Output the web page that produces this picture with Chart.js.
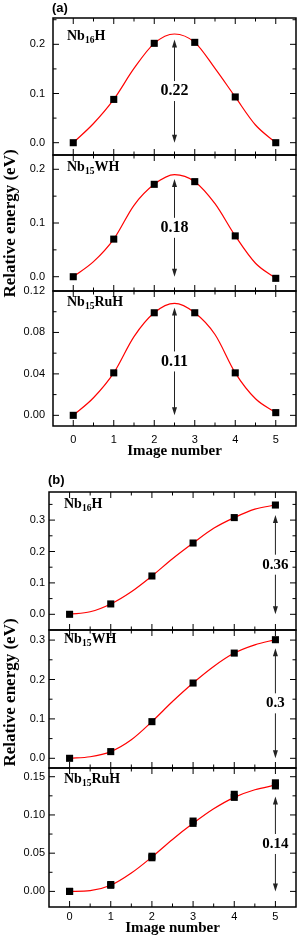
<!DOCTYPE html>
<html>
<head>
<meta charset="utf-8">
<script src="https://cdn.jsdelivr.net/npm/chart.js@4.4.1/dist/chart.umd.min.js"></script>
<style>
html,body{margin:0;padding:0;background:#fff;}
body{width:300px;height:940px;position:relative;overflow:hidden;}
canvas{position:absolute;left:0;}
.lbl{position:absolute;font-family:"Liberation Serif","Times New Roman",serif;font-weight:bold;font-size:14px;line-height:14px;white-space:nowrap;color:#000;z-index:5;}
.lbl sub{font-size:9.5px;vertical-align:baseline;position:relative;top:3px;}
.pan{position:absolute;font-family:"Liberation Sans",Arial,sans-serif;font-weight:bold;font-size:13px;line-height:13px;color:#000;z-index:5;}
.ytitle{position:absolute;width:220px;text-align:center;font-family:"Liberation Serif","Times New Roman",serif;font-weight:bold;font-size:17px;line-height:17px;transform:rotate(-90deg);transform-origin:50% 50%;white-space:nowrap;color:#000;z-index:5;}
</style>
</head>
<body>
<div class="pan" style="left:52px;top:1px">(a)</div>
<div class="pan" style="left:48px;top:473px">(b)</div>
<div class="ytitle" style="left:-100.7px;top:215px">Relative energy (eV)</div>
<div class="ytitle" style="left:-100.7px;top:683.5px">Relative energy (eV)</div>
<div class="lbl" style="left:67px;top:29px">Nb<sub>16</sub>H</div>
<div class="lbl" style="left:67px;top:160px">Nb<sub>15</sub>WH</div>
<div class="lbl" style="left:67px;top:295px">Nb<sub>15</sub>RuH</div>
<div class="lbl" style="left:64px;top:497px">Nb<sub>16</sub>H</div>
<div class="lbl" style="left:64px;top:632px">Nb<sub>15</sub>WH</div>
<div class="lbl" style="left:64px;top:771.5px">Nb<sub>15</sub>RuH</div>
<script>
// ---------- data ----------
const imageNumbers = [0, 1, 2, 3, 4, 5];
const xTickLabels = ['0', '1', '2', '3', '4', '5'];
const xMinorTicks = [0.5, 1.5, 2.5, 3.5, 4.5];
const curveX = [0, 0.5, 1, 1.5, 2, 2.5, 3, 3.5, 4, 4.5, 5];

// panel (a)
const a1Points = [0, 0.088, 0.202, 0.204, 0.093, 0];
const a1Curve  = [0, 0.039, 0.088, 0.151, 0.202, 0.221, 0.204, 0.151, 0.093, 0.036, 0];
const a2Points = [0, 0.070, 0.172, 0.177, 0.076, -0.003];
const a2Curve  = [0, 0.028, 0.070, 0.133, 0.172, 0.190, 0.177, 0.136, 0.076, 0.025, -0.003];
const a3Points = [0, 0.041, 0.099, 0.099, 0.041, 0.0026];
const a3Curve  = [0, 0.017, 0.041, 0.076, 0.099, 0.108, 0.099, 0.078, 0.041, 0.016, 0.0026];

// panel (b)
const b1Points = [0, 0.033, 0.122, 0.227, 0.308, 0.348];
const b1Curve  = [0, 0.008, 0.033, 0.072, 0.122, 0.177, 0.227, 0.274, 0.308, 0.335, 0.348];
const b2Points = [0, 0.017, 0.093, 0.191, 0.267, 0.301];
const b2Curve  = [0, 0.004, 0.017, 0.047, 0.093, 0.144, 0.191, 0.233, 0.267, 0.288, 0.301];
const b3PointsA = [0, 0.008, 0.046, 0.092, 0.127, 0.142];
const b3PointsB = [0, 0.009, 0.044, 0.089, 0.123, 0.138];
const b3Curve  = [0, 0.001, 0.008, 0.024, 0.045, 0.068, 0.089, 0.108, 0.123, 0.133, 0.139];

// y axes: ranges, major ticks, labels, minor ticks
const a1YRange = [-0.025, 0.2535], a1YTicks = [0, 0.1, 0.2], a1YLabels = ['0.0', '0.1', '0.2'], a1YMinor = [0.05, 0.15, 0.25];
const a2YRange = [-0.0266, 0.2266], a2YTicks = [0, 0.1, 0.2], a2YLabels = ['0.0', '0.1', '0.2'], a2YMinor = [0.05, 0.15];
const a3YRange = [-0.0103, 0.12], a3YTicks = [0, 0.04, 0.08, 0.12], a3YLabels = ['0.00', '0.04', '0.08', '0.12'], a3YMinor = [0.02, 0.06, 0.10];
const b1YRange = [-0.05, 0.3895], b1YTicks = [0, 0.1, 0.2, 0.3], b1YLabels = ['0.0', '0.1', '0.2', '0.3'], b1YMinor = [0.05, 0.15, 0.25, 0.35];
const b2YRange = [-0.0246, 0.3256], b2YTicks = [0, 0.1, 0.2, 0.3], b2YLabels = ['0.0', '0.1', '0.2', '0.3'], b2YMinor = [0.05, 0.15, 0.25];
const b3YRange = [-0.0204, 0.1614], b3YTicks = [0, 0.05, 0.10, 0.15], b3YLabels = ['0.00', '0.05', '0.10', '0.15'], b3YMinor = [0.025, 0.075, 0.125];

// barrier arrows
const barrierX = [2.5, 2.5, 2.5, 5, 5, 5];
const arrowTops = [0.21, 0.182, 0.104, 0.316, 0.279, 0.124];
const barrierLabels = ['0.22', '0.18', '0.11', '0.36', '0.3', '0.14'];

// ---------- layout ----------
const subplots = [
  {pts:[a1Points], curve:a1Curve, yr:a1YRange, yt:a1YTicks, yl:a1YLabels, ym:a1YMinor, boxTop:18,  boxBottom:155, boxLeft:53, yPad:8, bottom:false, font:16},
  {pts:[a2Points], curve:a2Curve, yr:a2YRange, yt:a2YTicks, yl:a2YLabels, ym:a2YMinor, boxTop:155, boxBottom:291, boxLeft:53, yPad:8, bottom:false, font:16},
  {pts:[a3Points], curve:a3Curve, yr:a3YRange, yt:a3YTicks, yl:a3YLabels, ym:a3YMinor, boxTop:291, boxBottom:426, boxLeft:53, yPad:8, bottom:true, xAxisH:36, xPad:7, titlePadB:2, font:16},
  {pts:[b1Points], curve:b1Curve, yr:b1YRange, yt:b1YTicks, yl:b1YLabels, ym:b1YMinor, boxTop:492, boxBottom:630, boxLeft:49, yPad:4, bottom:false, font:15},
  {pts:[b2Points], curve:b2Curve, yr:b2YRange, yt:b2YTicks, yl:b2YLabels, ym:b2YMinor, boxTop:630, boxBottom:768, boxLeft:49, yPad:4, bottom:false, font:15},
  {pts:[b3PointsA, b3PointsB], curve:b3Curve, yr:b3YRange, yt:b3YTicks, yl:b3YLabels, ym:b3YMinor, boxTop:768, boxBottom:907, boxLeft:49, yPad:4, bottom:true, xAxisH:32, xPad:3, titlePadB:2, font:15}
];

const P = 16;
const tickFont = {family: '"Liberation Sans", Arial, sans-serif', size: 11};

function framePlugin(sp, idx) {
  return {
    id: 'frame' + idx,
    afterDraw(chart) {
      const {ctx, chartArea: {left, right, top, bottom}, scales: {x, y}} = chart;
      ctx.save();
      ctx.strokeStyle = '#000';
      ctx.lineWidth = 1;
      const tick = (px, py, dx, dy) => { ctx.beginPath(); ctx.moveTo(px, py); ctx.lineTo(px + dx, py + dy); ctx.stroke(); };
      imageNumbers.forEach(v => { const px = x.getPixelForValue(v); tick(px, bottom, 0, -6); tick(px, top, 0, 6); });
      xMinorTicks.forEach(v => { const px = x.getPixelForValue(v); tick(px, bottom, 0, -3.5); tick(px, top, 0, 3.5); });
      sp.yt.forEach(v => { const py = y.getPixelForValue(v); if (py > top + 0.5) { tick(left, py, 6, 0); tick(right, py, -6, 0); } });
      sp.ym.forEach(v => { const py = y.getPixelForValue(v); if (py > top + 0.5) { tick(left, py, 3.5, 0); tick(right, py, -3.5, 0); } });
      ctx.lineWidth = 1.5;
      ctx.strokeRect(left, top, right - left, bottom - top);
      ctx.restore();
    },
    afterDatasetsDraw(chart) {
      const {ctx, scales: {x, y}} = chart;
      const px = x.getPixelForValue(barrierX[idx]);
      const y0 = y.getPixelForValue(0);
      const y1 = y.getPixelForValue(arrowTops[idx]);
      const ym = (y0 + y1) / 2;
      const gap = 10, head = 8, hw = 2.5;
      ctx.save();
      ctx.strokeStyle = '#222';
      ctx.fillStyle = '#222';
      ctx.lineWidth = 1;
      ctx.beginPath();
      ctx.moveTo(px, y1 + head - 1); ctx.lineTo(px, ym - gap);
      ctx.moveTo(px, ym + gap); ctx.lineTo(px, y0 - head + 1);
      ctx.stroke();
      ctx.beginPath();
      ctx.moveTo(px, y1); ctx.lineTo(px - hw, y1 + head); ctx.lineTo(px + hw, y1 + head); ctx.closePath();
      ctx.moveTo(px, y0); ctx.lineTo(px - hw, y0 - head); ctx.lineTo(px + hw, y0 - head); ctx.closePath();
      ctx.fill();
      ctx.fillStyle = '#000';
      ctx.font = 'bold ' + sp.font + 'px "Liberation Serif", "Times New Roman", serif';
      ctx.textAlign = 'center';
      ctx.textBaseline = 'middle';
      ctx.fillText(barrierLabels[idx], px, ym);
      ctx.restore();
    }
  };
}

subplots.forEach((sp, idx) => {
  const canvas = document.createElement('canvas');
  const top = sp.boxTop - P;
  const h = sp.boxBottom - sp.boxTop + P + (sp.bottom ? sp.xAxisH : P);
  canvas.width = 300; canvas.height = h;
  canvas.style.top = top + 'px';
  canvas.style.width = '300px'; canvas.style.height = h + 'px';
  document.body.appendChild(canvas);

  const datasets = sp.pts.map(arr => ({
    data: imageNumbers.map((v, i) => ({x: v, y: arr[i]})),
    showLine: false,
    pointStyle: 'rect',
    pointRadius: 5,
    pointHoverRadius: 5,
    pointBackgroundColor: '#000',
    pointBorderColor: '#000',
    pointBorderWidth: 0
  }));
  datasets.push({
    data: curveX.map((v, i) => ({x: v, y: sp.curve[i]})),
    showLine: true,
    borderColor: '#ff0000',
    borderWidth: 1.2,
    pointRadius: 0,
    fill: false,
    cubicInterpolationMode: 'monotone'
  });

  new Chart(canvas, {
    type: 'line',
    data: {datasets},
    options: {
      responsive: false,
      animation: false,
      devicePixelRatio: 1,
      layout: {autoPadding: false, padding: {left: 0, right: 4, top: P, bottom: sp.bottom ? 0 : P}},
      plugins: {legend: {display: false}, tooltip: {enabled: false}},
      scales: {
        x: {
          type: 'linear', min: -0.5, max: 5.5, display: sp.bottom,
          afterBuildTicks: s => { s.ticks = imageNumbers.map(v => ({value: v})); },
          afterFit: s => { if (sp.bottom) s.height = sp.xAxisH; },
          ticks: {font: tickFont, color: '#000', padding: sp.xPad || 3, autoSkip: false, maxRotation: 0,
                  callback: (v, i) => xTickLabels[i]},
          grid: {display: false, drawTicks: false},
          border: {display: false},
          title: {display: true, text: 'Image number', color: '#000',
                  font: {family: '"Liberation Serif", "Times New Roman", serif', size: 15, weight: 'bold'},
                  padding: {top: 0, bottom: sp.titlePadB || 0}}
        },
        y: {
          type: 'linear', min: sp.yr[0], max: sp.yr[1],
          afterFit: s => { s.width = sp.boxLeft; },
          afterBuildTicks: s => { s.ticks = sp.yt.map(v => ({value: v})); },
          ticks: {font: tickFont, color: '#000', padding: sp.yPad, callback: (v, i) => sp.yl[i]},
          grid: {display: false, drawTicks: false},
          border: {display: false}
        }
      }
    },
    plugins: [framePlugin(sp, idx)]
  });
});
</script>
</body>
</html>
